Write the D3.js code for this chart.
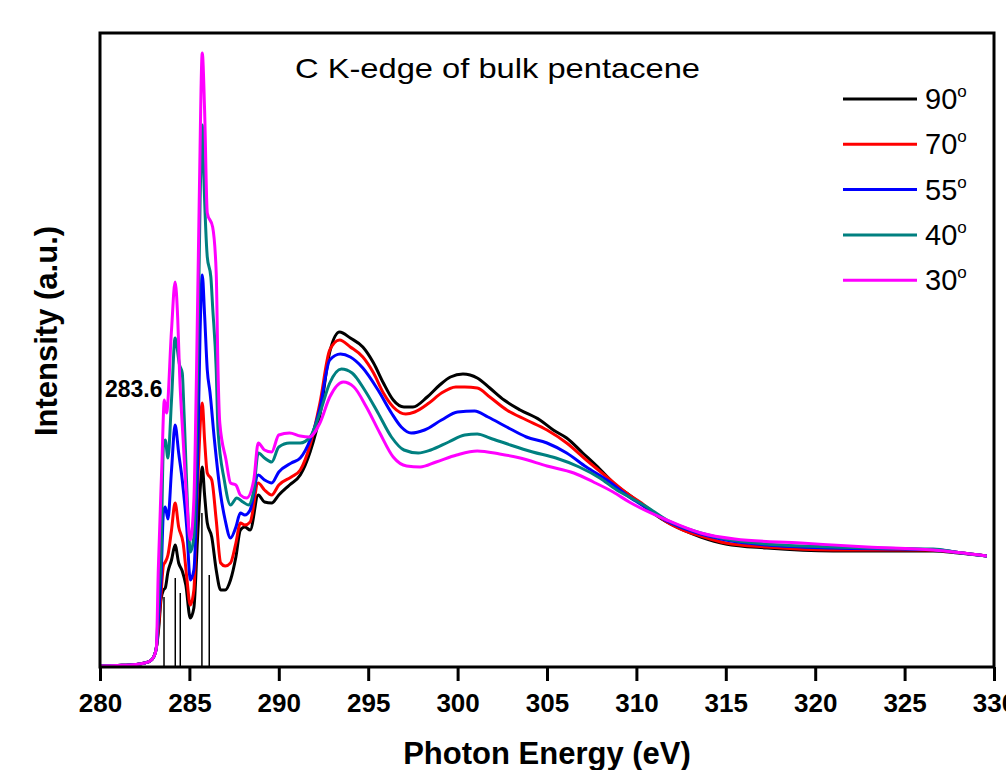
<!DOCTYPE html>
<html>
<head>
<meta charset="utf-8">
<script src="https://cdn.jsdelivr.net/npm/d3@7"></script>
<style>
  html, body { margin: 0; padding: 0; background: #fff; }
  svg { display: block; font-family: "Liberation Sans", Arial, sans-serif; }
</style>
</head>
<body>
<svg id="chart" width="1006" height="770"></svg>
<script>
// ---------------- DATA ----------------
const xTicks = [280, 285, 290, 295, 300, 305, 310, 315, 320, 325, 330];
const seriesLabels = ["90", "70", "55", "40", "30"];
const seriesColors = ["#000000", "#ff0000", "#0000ff", "#008080", "#ff00ff"];

const preEdge = [[280,0.01],[281,0.015],[282,0.025],[282.5,0.04],[282.8,0.06],[283.0,0.10],[283.15,0.19]];

const s90 = [[283.3,0.42],[283.41,0.67],[283.55,0.77],[283.65,0.79],[283.8,0.95],[284.0,1.07],[284.2,1.22],[284.4,1.04],[284.6,0.96],[284.8,0.82],[285.05,0.49],[285.25,0.59],[285.45,1.27],[285.6,1.77],[285.72,2.00],[285.85,1.72],[286.0,1.44],[286.25,1.30],[286.5,0.97],[286.75,0.77],[287.0,0.77],[287.3,0.87],[287.6,1.10],[287.85,1.37],[288.1,1.40],[288.4,1.37],[288.85,1.72],[289.2,1.65],[289.6,1.64],[290.0,1.72],[290.6,1.82],[291.2,1.92],[291.75,2.15],[292.3,2.52],[292.85,3.15],[293.4,3.35],[294.0,3.29],[294.7,3.20],[295.3,3.04],[295.85,2.84],[296.4,2.67],[297.0,2.60],[297.5,2.60],[298.3,2.70],[299.0,2.82],[299.6,2.90],[300.3,2.93],[301.1,2.89],[301.8,2.79],[302.6,2.67],[303.5,2.57],[304.6,2.47],[305.35,2.37],[306.1,2.29],[307.0,2.14],[307.95,1.98],[308.9,1.81],[309.6,1.72],[310.2,1.64],[311.0,1.53],[311.7,1.45],[312.6,1.37],[313.6,1.30],[315.0,1.23],[317.3,1.19],[321.0,1.16],[324.7,1.16],[326.6,1.16],[328.0,1.14],[329.6,1.11]];

const s70 = [[283.3,0.47],[283.41,0.72],[283.55,1.02],[283.65,1.05],[283.8,1.12],[284.0,1.37],[284.2,1.64],[284.4,1.40],[284.65,1.24],[284.85,0.90],[285.05,0.62],[285.25,0.77],[285.45,1.77],[285.72,2.64],[285.85,2.27],[286.0,1.94],[286.25,1.87],[286.5,1.47],[286.75,1.04],[287.0,1.01],[287.3,1.04],[287.6,1.24],[287.85,1.44],[288.1,1.42],[288.4,1.45],[288.85,1.84],[289.2,1.77],[289.6,1.72],[290.0,1.82],[290.7,1.90],[291.2,1.97],[291.75,2.22],[292.3,2.64],[292.85,3.17],[293.4,3.27],[294.0,3.20],[294.7,3.10],[295.3,2.94],[295.85,2.74],[296.4,2.60],[297.1,2.53],[297.6,2.55],[298.4,2.64],[299.1,2.74],[299.9,2.80],[300.4,2.80],[301.1,2.79],[301.8,2.70],[302.75,2.57],[303.85,2.47],[305.0,2.37],[306.1,2.24],[307.2,2.07],[308.35,1.90],[309.6,1.72],[310.2,1.65],[311.0,1.54],[311.7,1.45],[312.6,1.37],[313.6,1.31],[315.0,1.24],[317.3,1.20],[321.0,1.17],[324.7,1.17],[326.6,1.17],[328.0,1.145],[329.6,1.11]];

const s55 = [[283.3,0.57],[283.41,0.87],[283.55,1.55],[283.65,1.60],[283.8,1.48],[284.0,1.97],[284.2,2.42],[284.4,2.14],[284.6,1.87],[284.85,1.40],[285.05,0.87],[285.25,0.97],[285.45,1.97],[285.6,3.37],[285.72,3.92],[285.85,3.52],[286.0,2.97],[286.15,2.75],[286.4,2.27],[286.75,1.72],[287.0,1.47],[287.3,1.29],[287.6,1.40],[287.85,1.54],[288.1,1.52],[288.4,1.57],[288.85,1.92],[289.2,1.87],[289.6,1.84],[290.0,1.95],[290.7,2.04],[291.2,2.09],[291.75,2.27],[292.3,2.59],[292.85,3.07],[293.45,3.13],[294.0,3.10],[294.7,2.99],[295.55,2.77],[296.3,2.54],[296.85,2.40],[297.4,2.34],[298.15,2.37],[299.1,2.47],[300.0,2.55],[300.95,2.56],[301.7,2.50],[302.75,2.40],[303.85,2.30],[305.0,2.24],[306.1,2.14],[307.2,2.00],[308.35,1.87],[309.6,1.70],[310.5,1.60],[311.7,1.46],[313.6,1.33],[315.0,1.27],[317.3,1.22],[321.0,1.19],[324.7,1.18],[326.6,1.175],[328.0,1.145],[329.6,1.11]];

const s40 = [[283.3,0.77],[283.41,1.07],[283.55,2.22],[283.65,2.27],[283.8,2.09],[284.0,2.67],[284.2,3.29],[284.45,3.02],[284.6,2.94],[284.7,2.54],[284.95,1.40],[285.05,1.15],[285.25,1.30],[285.45,2.87],[285.6,4.67],[285.72,5.42],[285.8,4.94],[286.0,4.10],[286.2,3.90],[286.3,3.60],[286.5,2.97],[286.6,2.37],[286.95,1.87],[287.3,1.62],[287.65,1.69],[288.0,1.65],[288.3,1.62],[288.6,1.77],[288.85,2.14],[289.2,2.09],[289.6,2.05],[290.0,2.20],[290.6,2.24],[291.2,2.24],[291.75,2.30],[292.3,2.54],[292.85,2.84],[293.5,2.98],[294.1,2.94],[294.8,2.77],[295.55,2.54],[296.3,2.30],[297.0,2.17],[297.8,2.14],[298.5,2.17],[299.5,2.25],[300.4,2.32],[301.1,2.33],[301.8,2.29],[302.95,2.22],[304.2,2.15],[305.5,2.09],[306.8,2.00],[307.95,1.89],[308.9,1.77],[309.6,1.70],[310.5,1.61],[311.7,1.47],[313.6,1.34],[315.0,1.28],[317.3,1.23],[321.0,1.20],[324.7,1.185],[326.6,1.18],[328.0,1.145],[329.6,1.11]];

const s30 = [[283.26,0.97],[283.45,1.97],[283.6,2.67],[283.72,2.54],[284.0,3.37],[284.2,3.85],[284.35,3.47],[284.45,2.94],[284.65,2.27],[284.85,1.67],[285.05,1.27],[285.25,1.67],[285.4,2.97],[285.55,4.67],[285.72,6.14],[285.85,5.57],[286.0,4.54],[286.3,4.40],[286.5,3.94],[286.6,2.97],[286.7,2.44],[287.05,2.07],[287.3,1.84],[287.6,1.82],[287.85,1.72],[288.2,1.69],[288.6,1.87],[288.85,2.24],[289.2,2.17],[289.6,2.15],[290.0,2.32],[290.6,2.34],[291.2,2.31],[291.7,2.30],[292.3,2.44],[292.85,2.70],[293.6,2.85],[294.2,2.80],[294.9,2.60],[295.65,2.34],[296.4,2.10],[297.15,2.01],[297.9,2.00],[298.8,2.05],[299.95,2.12],[301.1,2.16],[302.35,2.13],[303.5,2.09],[305.0,2.01],[306.5,1.94],[307.6,1.85],[308.7,1.75],[309.6,1.65],[311.7,1.47],[313.6,1.34],[315.5,1.28],[319.2,1.24],[322.9,1.20],[326.6,1.17],[328.0,1.145],[329.6,1.11]];

const seriesData = [s90, s70, s55, s40, s30];

// drop lines (transition energies) and their heights
const dropEnergies = [283.58, 284.21, 284.49, 285.70, 286.11];
const dropHeights = [0.70, 0.89, 0.74, 1.54, 0.92];

const titleText = "C K-edge of bulk pentacene";
const xTitle = "Photon Energy (eV)";
const yTitle = "Intensity (a.u.)";
const peakLabel = "283.6";

// ---------------- LAYOUT ----------------
const mLeft = 100, mRight = 994, mTop = 33, mBottom = 667;
const svg = d3.select("#chart");

const x = d3.scaleLinear().domain([280, 330]).range([mLeft, mRight]);
const y = d3.scaleLinear().domain([0, 6.34]).range([mBottom, mTop]);

svg.append("defs").append("clipPath").attr("id", "clip")
  .append("rect").attr("x", mLeft).attr("y", mTop).attr("width", mRight - mLeft).attr("height", mBottom - mTop);

const plot = svg.append("g").attr("clip-path", "url(#clip)");

// drop lines
plot.selectAll("line.drop").data(dropEnergies).enter().append("line")
  .attr("class", "drop")
  .attr("x1", d => x(d)).attr("x2", d => x(d))
  .attr("y1", y(0)).attr("y2", (d, i) => y(dropHeights[i]))
  .attr("stroke", "#000").attr("stroke-width", 1.5);

const line = d3.line().x(d => x(d[0])).y(d => y(d[1])).curve(d3.curveMonotoneX);

seriesData.forEach((s, i) => {
  plot.append("path")
    .datum(preEdge.concat(s))
    .attr("d", line)
    .attr("fill", "none")
    .attr("stroke", seriesColors[i])
    .attr("stroke-width", 3)
    .attr("stroke-linejoin", "round");
});

// x axis
const xAxis = d3.axisBottom(x).tickValues(xTicks).tickSize(14).tickPadding(13).tickFormat(d3.format("d"));
const gx = svg.append("g").attr("transform", `translate(0,${mBottom})`).call(xAxis);
gx.select(".domain").remove();
gx.selectAll(".tick line").attr("stroke", "#000").attr("stroke-width", 3);
gx.selectAll(".tick text").attr("font-size", 26).attr("font-weight", "bold").attr("fill", "#000")
  .attr("font-family", "'Liberation Sans', Arial, sans-serif");

// frame
svg.append("rect").attr("x", mLeft).attr("y", mTop).attr("width", mRight - mLeft).attr("height", mBottom - mTop)
  .attr("fill", "none").attr("stroke", "#000").attr("stroke-width", 3);

// title
svg.append("text").attr("x", 295).attr("y", 78).attr("font-size", 28)
  .attr("textLength", 405).attr("lengthAdjust", "spacingAndGlyphs")
  .attr("fill", "#000").text(titleText);

// axis titles
svg.append("text").attr("x", 547).attr("y", 764).attr("text-anchor", "middle")
  .attr("font-size", 31).attr("font-weight", "bold").attr("fill", "#000").text(xTitle);
svg.append("text").attr("transform", "translate(57,331) rotate(-90)").attr("text-anchor", "middle")
  .attr("font-size", 31).attr("font-weight", "bold").attr("fill", "#000").text(yTitle);

// peak label
svg.append("text").attr("x", 105).attr("y", 397).attr("font-size", 23).attr("font-weight", "bold")
  .attr("fill", "#000").text(peakLabel);

// legend
const legY0 = 99, legStep = 45.3;
seriesLabels.forEach((lab, i) => {
  const ly = legY0 + i * legStep;
  svg.append("line").attr("x1", 843).attr("x2", 917).attr("y1", ly).attr("y2", ly)
    .attr("stroke", seriesColors[i]).attr("stroke-width", 3);
  const t = svg.append("text").attr("x", 925).attr("y", ly + 10).attr("font-size", 29).attr("fill", "#000");
  t.append("tspan").text(lab);
  t.append("tspan").attr("font-size", 17).attr("dy", -12).text("o");
});
</script>
</body>
</html>
